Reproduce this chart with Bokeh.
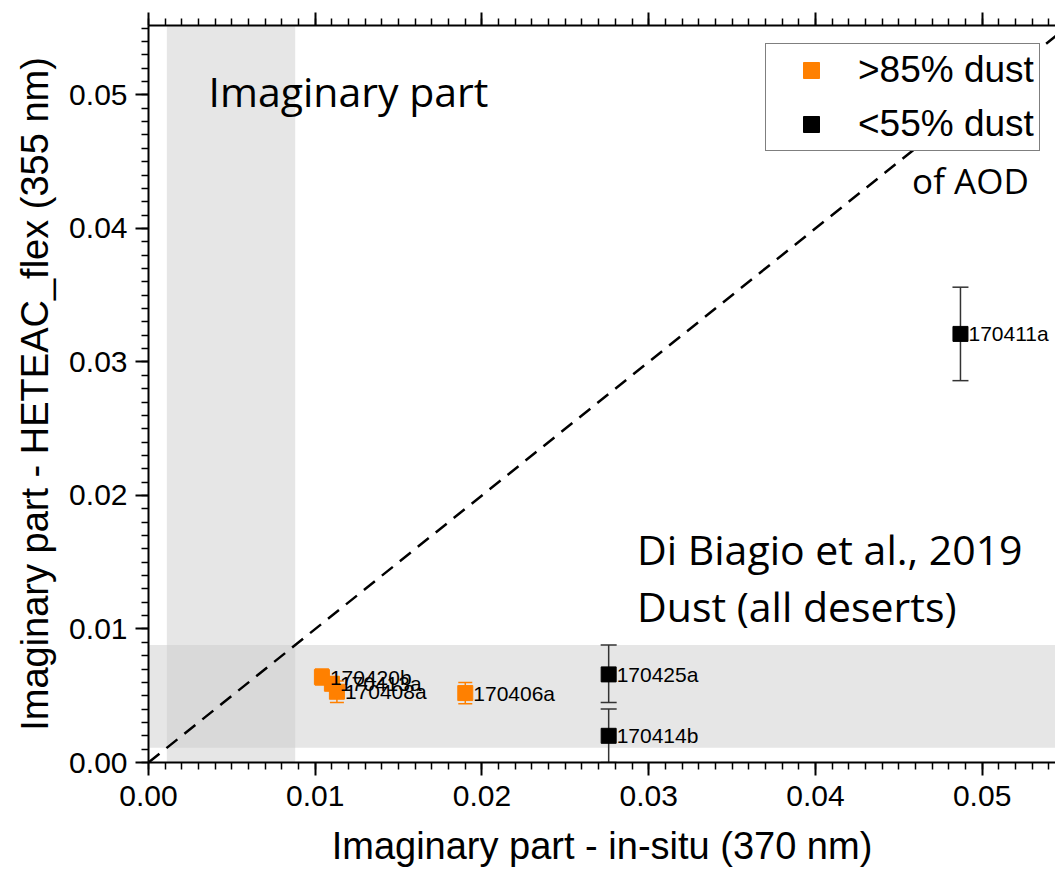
from bokeh.plotting import figure
from bokeh.models import (Range1d, LinearAxis, SingleIntervalTicker, PrintfTickFormatter,
                          CustomJSTickFormatter, BoxAnnotation, Slope, Whisker, TeeHead,
                          ColumnDataSource, LabelSet, Label, Legend, LegendItem)
from bokeh.core.properties import value
from bokeh.embed import file_html
from bokeh.resources import INLINE

# ---------------- data ----------------
dust_ids = ["170420b", "170413a", "170408a", "170406a"]
dust_x = [0.0104, 0.0110, 0.0113, 0.0190]
dust_y = [0.0064, 0.0059, 0.0053, 0.0052]
dust_err = [0.0006, 0.0005, 0.0008, 0.0008]

mix_ids = ["170425a", "170414b", "170411a"]
mix_x = [0.0276, 0.0276, 0.0487]
mix_y = [0.0066, 0.0020, 0.0321]
mix_upper = [0.0088, 0.0040, 0.0356]
mix_lower = [0.0045, 0.0000, 0.0286]

band_range = [0.0011, 0.0088]   # Di Biagio et al., 2019 dust range
x_ticks_interval = 0.01
y_ticks_interval = 0.01

ORANGE = "#ff8000"
FONT = "Liberation Sans"
TXT_FONT = "Open Sans"

p = figure(width=1055, height=875, output_backend="svg", toolbar_location=None,
           x_range=Range1d(0, 0.0544), y_range=Range1d(0, 0.0552),
           min_border_left=148, min_border_right=0, min_border_top=25,
           min_border_bottom=113, x_axis_location=None, y_axis_location=None)
p.outline_line_color = None
p.grid.visible = False
p.background_fill_color = "white"

# shaded bands
p.add_layout(BoxAnnotation(left=band_range[0], right=band_range[1], fill_color="#e6e6e6",
                           fill_alpha=1, line_color=None, level="underlay"))
p.add_layout(BoxAnnotation(bottom=band_range[0], top=band_range[1], fill_color="#e6e6e6",
                           fill_alpha=1, line_color=None, level="underlay"))
p.add_layout(BoxAnnotation(left=band_range[0], right=band_range[1], bottom=band_range[0],
                           top=band_range[1], fill_color="#d9d9d9", fill_alpha=1,
                           line_color=None, level="underlay"))

# 1:1 line
p.add_layout(Slope(gradient=1, y_intercept=0, line_color="black", line_width=2.5,
                   line_dash="14 9"))

# axes
def style_axis(ax):
    ax.axis_line_width = 2
    ax.major_tick_line_width = 2
    ax.minor_tick_line_width = 1.5
    ax.major_tick_out = 13
    ax.major_tick_in = 0
    ax.minor_tick_out = 7
    ax.minor_tick_in = 0
    ax.major_label_text_font = FONT
    ax.major_label_text_font_size = "30px"
    ax.major_label_text_color = "black"
    ax.axis_label_text_font = FONT
    ax.axis_label_text_font_style = "normal"
    ax.axis_label_text_font_size = "38px"
    ax.axis_label_text_color = "black"

xa = LinearAxis(ticker=SingleIntervalTicker(interval=x_ticks_interval, num_minor_ticks=10),
                formatter=PrintfTickFormatter(format="%.2f"),
                axis_label="Imaginary part - in-situ (370 nm)")
style_axis(xa)
xa.major_label_standoff = 10
xa.axis_label_standoff = 16
p.add_layout(xa, "below")

ya = LinearAxis(ticker=SingleIntervalTicker(interval=y_ticks_interval, num_minor_ticks=10),
                formatter=PrintfTickFormatter(format="%.2f"),
                axis_label="Imaginary part - HETEAC_flex (355 nm)")
style_axis(ya)
ya.major_label_standoff = 8
ya.axis_label_standoff = 10
p.add_layout(ya, "left")

ta = LinearAxis(ticker=SingleIntervalTicker(interval=x_ticks_interval, num_minor_ticks=10),
                formatter=CustomJSTickFormatter(code="return ''"))
style_axis(ta)
ta.major_label_standoff = 0
p.add_layout(ta, "above")

# data
src_d = ColumnDataSource(dict(x=dust_x, y=dust_y, id=dust_ids,
                              up=[y + e for y, e in zip(dust_y, dust_err)],
                              lo=[y - e for y, e in zip(dust_y, dust_err)]))
src_m = ColumnDataSource(dict(x=mix_x, y=mix_y, id=mix_ids, up=mix_upper, lo=mix_lower))

p.add_layout(Whisker(source=src_d, base="x", upper="up", lower="lo", dimension="height",
                     line_color=ORANGE, line_width=1.5,
                     upper_head=TeeHead(size=14, line_color=ORANGE, line_width=1.5),
                     lower_head=TeeHead(size=14, line_color=ORANGE, line_width=1.5)))
p.add_layout(Whisker(source=src_m, base="x", upper="up", lower="lo", dimension="height",
                     line_color="#333333", line_width=1.5,
                     upper_head=TeeHead(size=16, line_color="#333333", line_width=1.5),
                     lower_head=TeeHead(size=16, line_color="#333333", line_width=1.5)))

r_d = p.scatter("x", "y", source=src_d, marker="square", size=15, fill_color=ORANGE,
                line_color=ORANGE)
r_m = p.scatter("x", "y", source=src_m, marker="square", size=15, fill_color="black",
                line_color="black")

for src in (src_d, src_m):
    p.add_layout(LabelSet(x="x", y="y", text="id", source=src, x_offset=8,
                          text_baseline="middle", text_font=value(FONT),
                          text_font_size="21px", text_color="black"))

# texts
p.add_layout(Label(x=0.0036, y=0.0503, text="Imaginary part", text_font=TXT_FONT,
                   text_font_size="41px", text_baseline="middle", text_color="black"))
p.add_layout(Label(x=0.0293, y=0.0160, text="Di Biagio et al., 2019", text_font=TXT_FONT,
                   text_font_size="41px", text_baseline="middle", text_color="black"))
p.add_layout(Label(x=0.0293, y=0.0117, text="Dust (all deserts)", text_font=TXT_FONT,
                   text_font_size="41px", text_baseline="middle", text_color="black"))
p.add_layout(Label(x=0.0458, y=0.0436, text="of AOD", text_font=TXT_FONT,
                   text_font_size="35px", text_baseline="middle", text_color="black"))

legend = Legend(items=[LegendItem(label=">85% dust", renderers=[r_d]),
                       LegendItem(label="<55% dust", renderers=[r_m])],
                location=(617, 611), orientation="vertical",
                glyph_width=80, glyph_height=40, label_height=40, label_standoff=7,
                spacing=12, padding=5, margin=0,
                label_text_font=FONT, label_text_font_size="37px",
                label_text_color="black",
                border_line_color="black", border_line_width=1.5,
                background_fill_color="white", background_fill_alpha=1)
p.add_layout(legend, "center")

open("out.html", "w").write(file_html(p, INLINE))
